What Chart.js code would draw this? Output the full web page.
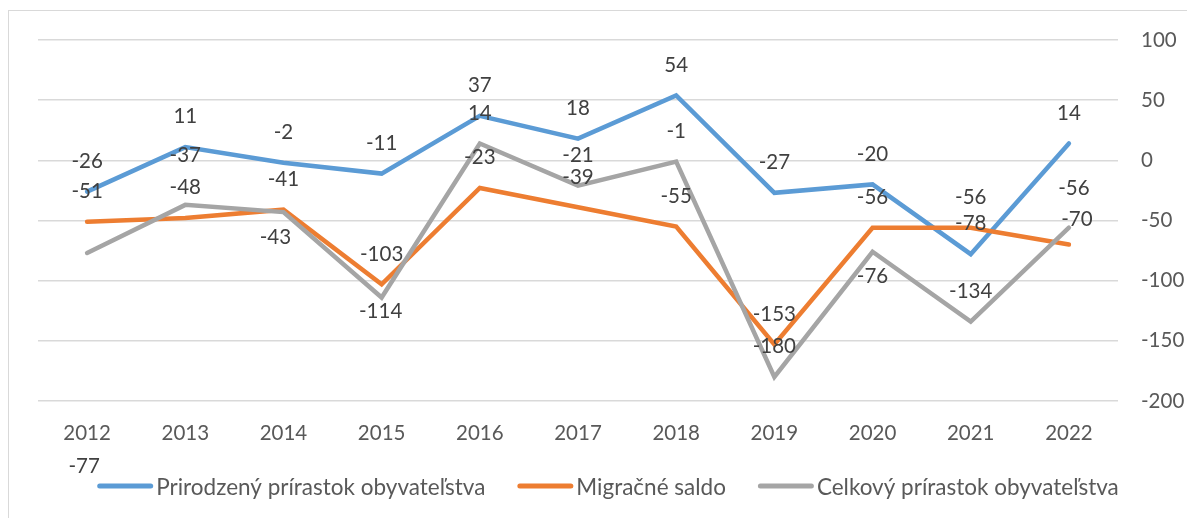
<!DOCTYPE html>
<html><head><meta charset="utf-8">
<script src="https://cdn.jsdelivr.net/npm/chart.js@4/dist/chart.umd.min.js"></script>
<style>
html,body{margin:0;padding:0;background:#fff;overflow:hidden}
#wrap{position:relative;width:1187px;height:518px;overflow:hidden}
#frame{position:absolute;left:8px;top:10px;width:1300px;height:600px;border-left:1.5px solid #d9d9d9;border-top:1.5px solid #d9d9d9}
canvas{position:absolute;left:0;top:0}
</style></head>
<body><div id="wrap"><div id="frame"></div><canvas id="c" width="1187" height="518"></canvas></div>
<script>
// ---- data ----
const years = ['2012','2013','2014','2015','2016','2017','2018','2019','2020','2021','2022'];
const prirodzeny = [-26, 11, -2, -11, 37, 18, 54, -27, -20, -78, 14];
const migracne   = [-51, -48, -41, -103, -23, -39, -55, -153, -56, -56, -70];
const celkovy    = [-77, -37, -43, -114, 14, -21, -1, -180, -76, -134, -56];
const yTicks = [-200, -150, -100, -50, 0, 50, 100];
const seriesNames = ['Prirodzený prírastok obyvateľstva', 'Migračné saldo', 'Celkový prírastok obyvateľstva'];

// ---- label placement (pixel offsets from the point; null = default above) ----
const DEF_DY = -31;
const labelDx = [
  [0,0,0,0,0,0,0,0,0,0,0],
  [0,0,0,0,0,0,0,0,0,0,8],
  [-3,0,-8,-1,0,0,0,0,0,0,5]
];
const labelDy = [
  [null,null,null,null,null,null,null,null,null,null,null],
  [null,null,null,null,null,null,null,null,null,null,-26],
  [213,-50,25,13,null,null,null,null,24,null,-40]
];

const colors = ['#5B9BD5', '#ED7D31', '#A5A5A5'];
const FONT = 'Lato, "Open Sans", sans-serif';

const dataLabelPlugin = {
  id: 'dataLabels',
  afterDatasetsDraw(chart) {
    const ctx = chart.ctx;
    ctx.save();
    ctx.font = '20.5px ' + FONT;
    ctx.fillStyle = '#404040';
    ctx.textAlign = 'center';
    ctx.textBaseline = 'alphabetic';
    chart.data.datasets.forEach((ds, si) => {
      const meta = chart.getDatasetMeta(si);
      meta.data.forEach((pt, i) => {
        const dx = labelDx[si][i] || 0;
        const dy = labelDy[si][i] == null ? DEF_DY : labelDy[si][i];
        ctx.fillText(String(ds.data[i]), pt.x + dx, pt.y + dy + 7.3);
      });
    });
    ctx.restore();
  }
};

const legendPlugin = {
  id: 'customLegend',
  afterDraw(chart) {
    const ctx = chart.ctx;
    ctx.save();
    ctx.font = '22.5px ' + FONT;
    const lineW = 56, gap = 3, itemGap = 32, lw = 5;
    const widths = seriesNames.map(n => ctx.measureText(n).width);
    const total = widths.reduce((a, w) => a + lineW + gap + w, 0) + itemGap * (seriesNames.length - 1);
    let x = 608 - total / 2;
    const y = 486;
    seriesNames.forEach((name, i) => {
      ctx.strokeStyle = colors[i];
      ctx.lineWidth = lw;
      ctx.lineCap = 'round';
      ctx.beginPath();
      ctx.moveTo(x + lw / 2, y);
      ctx.lineTo(x + lineW - lw / 2, y);
      ctx.stroke();
      x += lineW + gap;
      ctx.fillStyle = '#595959';
      ctx.textAlign = 'left';
      ctx.textBaseline = 'alphabetic';
      ctx.fillText(name, x, y + 8.5);
      x += widths[i] + itemGap;
    });
    ctx.restore();
  }
};

const series = [prirodzeny, migracne, celkovy];
const datasets = series.map((d, i) => ({
  label: seriesNames[i],
  data: d,
  borderColor: colors[i],
  backgroundColor: colors[i],
  borderWidth: 4.5,
  borderCapStyle: 'round',
  borderJoinStyle: 'miter',
  pointRadius: 0,
  pointHoverRadius: 0,
  tension: 0,
  fill: false,
  order: 2 - i
}));

function draw() {
  new Chart(document.getElementById('c'), {
    type: 'line',
    data: { labels: years, datasets },
    options: {
      responsive: false,
      devicePixelRatio: 1,
      animation: false,
      layout: { padding: { left: 38, top: 40, right: 0, bottom: 0 } },
      plugins: { legend: { display: false }, tooltip: { enabled: false } },
      scales: {
        x: {
          type: 'category',
          offset: true,
          grid: { display: false, drawTicks: false },
          border: { display: false },
          ticks: { color: '#595959', font: { family: FONT, size: 20.5 }, padding: 20, maxRotation: 0, autoSkip: false },
          afterFit(s) { s.height = 117; }
        },
        y: {
          position: 'right',
          min: -200, max: 100,
          afterBuildTicks(s) { s.ticks = yTicks.map(v => ({ value: v })); },
          grid: { color: '#d9d9d9', lineWidth: 1.5, drawTicks: false },
          border: { display: false },
          ticks: { color: '#595959', font: { family: FONT, size: 20.5 }, padding: 23 },
          afterFit(s) { s.width = 69; }
        }
      }
    },
    plugins: [dataLabelPlugin, legendPlugin]
  });
}
if (document.fonts && document.fonts.load) {
  document.fonts.load('20px Lato').then(draw, draw);
} else { draw(); }
</script>
</body></html>
